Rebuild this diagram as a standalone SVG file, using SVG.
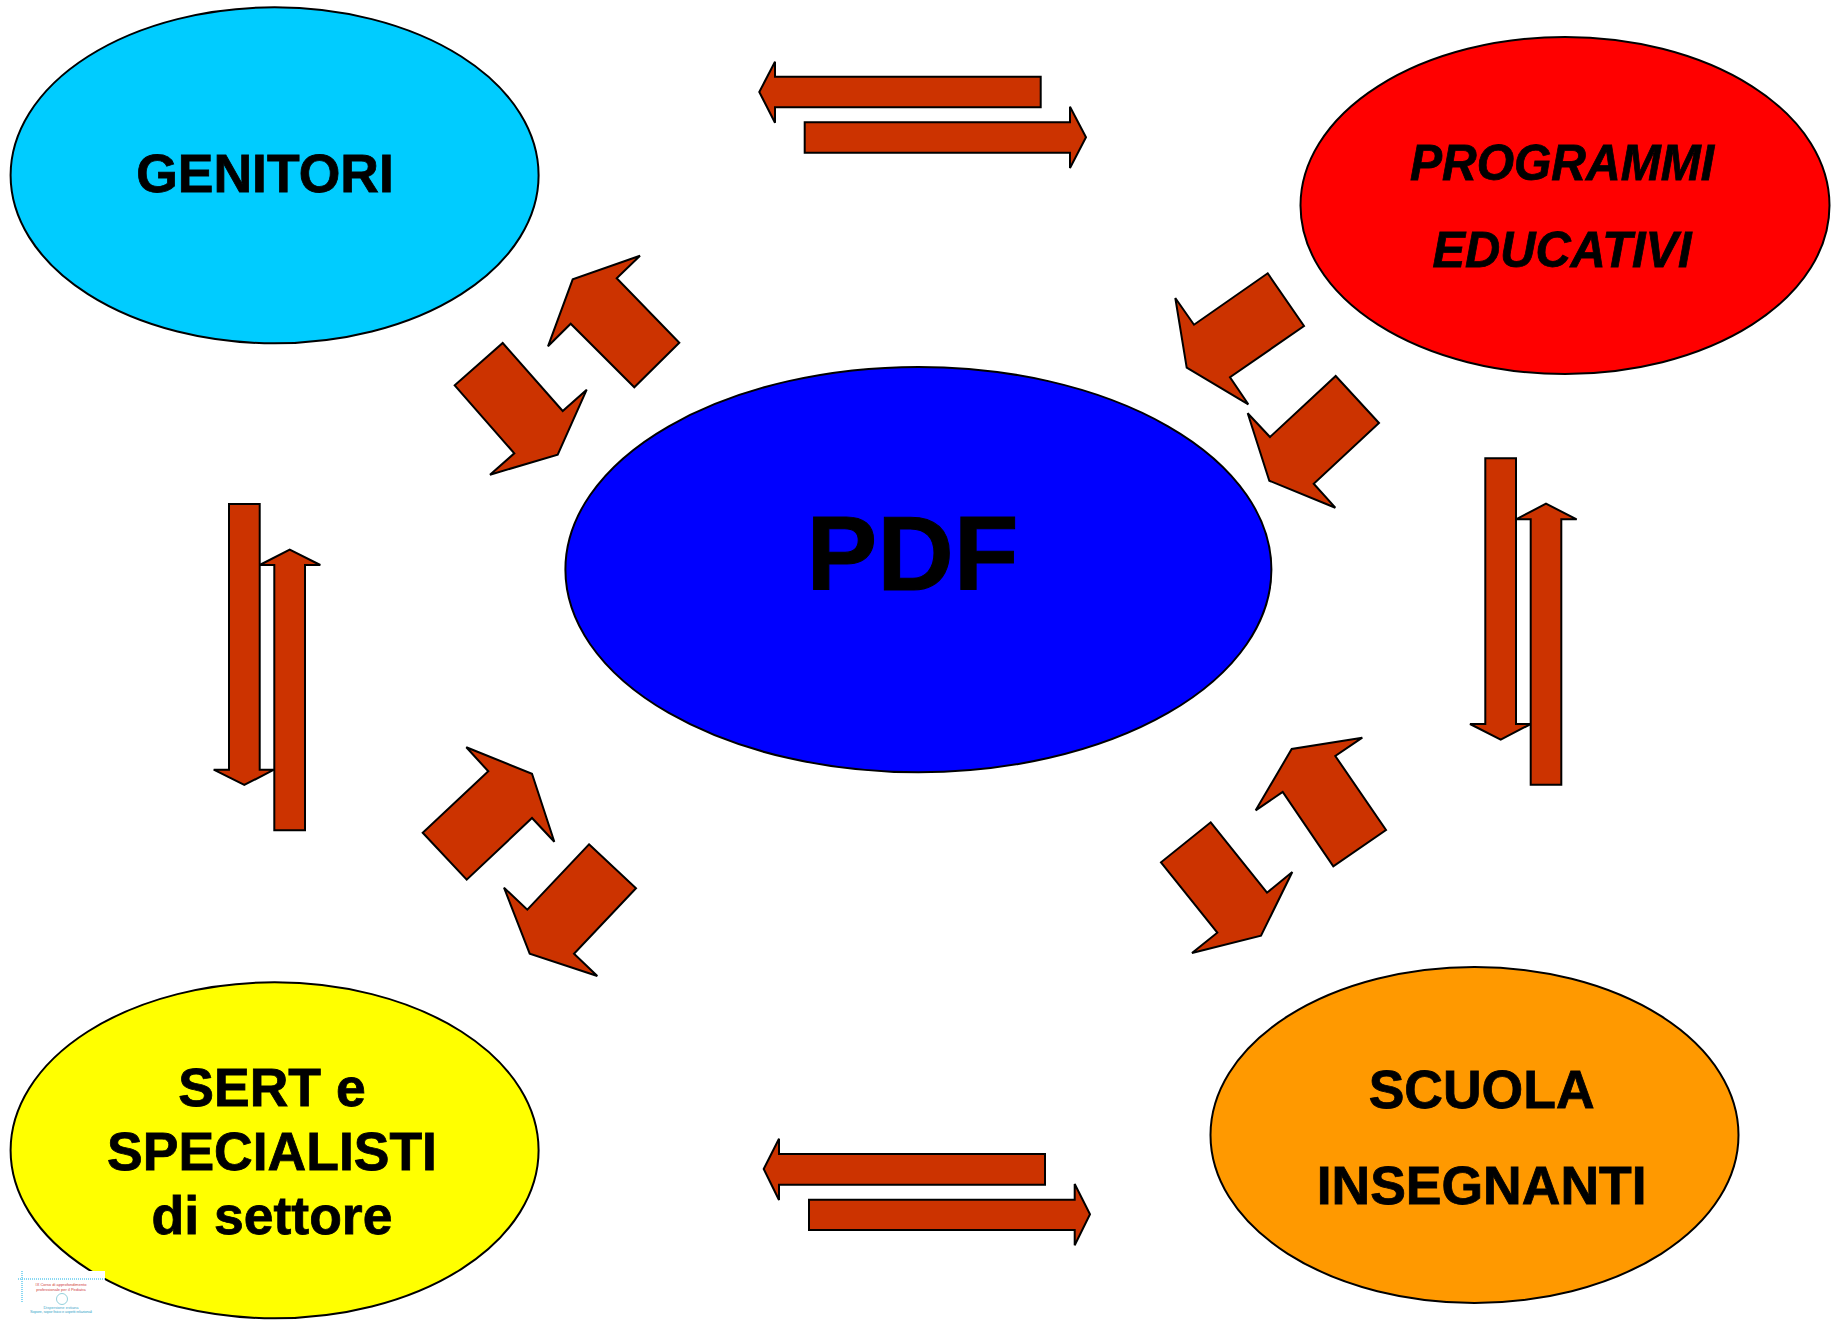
<svg xmlns="http://www.w3.org/2000/svg" width="1832" height="1323" viewBox="0 0 1832 1323">
<style>
.e{stroke:#000;stroke-width:2}
.a{fill:#cc3300;stroke:#000;stroke-width:2;stroke-linejoin:miter}
.t{font-family:"Liberation Sans",Arial,sans-serif;font-weight:bold;font-size:53.5px;text-anchor:middle;fill:#000;stroke:#000;stroke-width:.8}
.i{font-size:50px;font-style:italic}
.l{font-family:"Liberation Sans",Arial,sans-serif;font-size:4px;text-anchor:middle}
</style>
<rect width="1832" height="1323" fill="#fff"/>
<g id="node-genitori"><ellipse class="e" cx="274.6" cy="175.3" rx="264" ry="168" fill="#00ccff"/><text class="t" x="265" y="191.500">GENITORI</text></g>
<g id="node-programmi"><ellipse class="e" cx="1565" cy="205.500" rx="264.5" ry="168.5" fill="#ff0000"/><text class="t i" x="1562" y="180" textLength="304" lengthAdjust="spacingAndGlyphs">PROGRAMMI</text><text class="t i" x="1562" y="266.5" textLength="259" lengthAdjust="spacingAndGlyphs">EDUCATIVI</text></g>
<g id="node-pdf"><ellipse class="e" cx="918.4" cy="569.6" rx="353" ry="202.7" fill="#0000ff"/><text class="t" x="912.5" y="589.5" style="font-size:106px;stroke-width:1">PDF</text></g>
<g id="node-sert"><ellipse class="e" cx="274.6" cy="1150.300" rx="264" ry="168" fill="#ffff00"/><text class="t" x="272" y="1106">SERT e</text><text class="t" x="272" y="1170">SPECIALISTI</text><text class="t" x="272" y="1234">di settore</text></g>
<g id="node-scuola"><ellipse class="e" cx="1474.5" cy="1135" rx="264" ry="168" fill="#ff9900"/><text class="t" x="1481.6" y="1108">SCUOLA</text><text class="t" x="1481.6" y="1203.500">INSEGNANTI</text></g>
<g id="connectors">
<polygon class="a" points="640,255.7 616.7,278.3 679.3,342.7 634.3,387.3 570.7,323.7 548,346.3 572.7,279.3"/>
<polygon class="a" points="502.7,343 562.7,411 586.7,389.7 557.7,454.7 490,474.7 514.3,453.3 454.7,385.3"/>
<polygon class="a" points="759.3,92 775,61.7 775,76.7 1040.7,76.7 1040.7,107.3 775,107.3 775,122.7"/>
<polygon class="a" points="804.7,122.3 1070,122.3 1070,106.7 1086,137.3 1070,168 1070,152.7 804.7,152.7"/>
<polygon class="a" points="1267.7,273.3 1304,326 1230,377.3 1248.3,404.3 1186.7,367.7 1175.3,298 1194,324.7"/>
<polygon class="a" points="1335.7,376 1379,423 1313.7,483.7 1335.3,507.7 1269.3,480.7 1247.7,413.3 1270,437"/>
<polygon class="a" points="1485.3,458.3 1516,458.3 1516,724 1530.7,724 1500.7,739.7 1470,724 1485.3,724"/>
<polygon class="a" points="1530.7,784.7 1561.3,784.7 1561.3,519.3 1576.7,519.3 1546,503.7 1516,519.3 1530.7,519.3"/>
<polygon class="a" points="1362.3,737.7 1335.3,756 1386,830 1333.3,866.3 1282.7,792 1255.7,810.3 1291.7,749"/>
<polygon class="a" points="1210.7,822.3 1267,892.7 1292.3,872 1261,935.7 1192,953 1217.3,932.7 1161,862.3"/>
<polygon class="a" points="763.7,1169 779,1138.7 779,1154 1045,1154 1045,1184.7 779,1184.7 779,1200"/>
<polygon class="a" points="809,1199.7 1074.7,1199.7 1074.7,1184 1090,1214.3 1074.7,1245.3 1074.7,1230 809,1230"/>
<polygon class="a" points="466.3,747.3 532,773.7 554.3,841.7 532,818 466.7,879.7 422.7,832.7 488.3,771.3"/>
<polygon class="a" points="589,844.3 636,888.3 574,953.7 597.3,976 529.7,953.7 504,887.7 527.3,909.7"/>
<polygon class="a" points="229,504 259.7,504 259.7,769.7 274,769.7 244.3,785 213.7,769.7 229,769.7"/>
<polygon class="a" points="274.3,830.3 305,830.3 305,565 320.3,565 289.7,549.7 259.7,565 274.3,565"/>
</g>
<g id="logo">
<rect x="18" y="1271" width="87" height="52" fill="#fff"/>
<path d="M22 1271V1302M18 1279H105" stroke="#66ccee" stroke-width="1.500" stroke-dasharray="1 1" fill="none"/>
<text class="l" x="61" y="1286" fill="#d04040">IX Corso di approfondimento</text>
<text class="l" x="61" y="1291" fill="#d04040">professionale per il Pediatra</text>
<circle cx="62" cy="1299" r="5.5" fill="#fff" stroke="#66bbcc" stroke-width="0.7"/>
<text class="l" x="61" y="1308.500" fill="#44aacc">Dispersione estiana</text>
<text class="l" x="61" y="1313" fill="#44aacc" textLength="62">Sopore, sopor fisico e aspetti relazionali</text>
</g>
</svg>
